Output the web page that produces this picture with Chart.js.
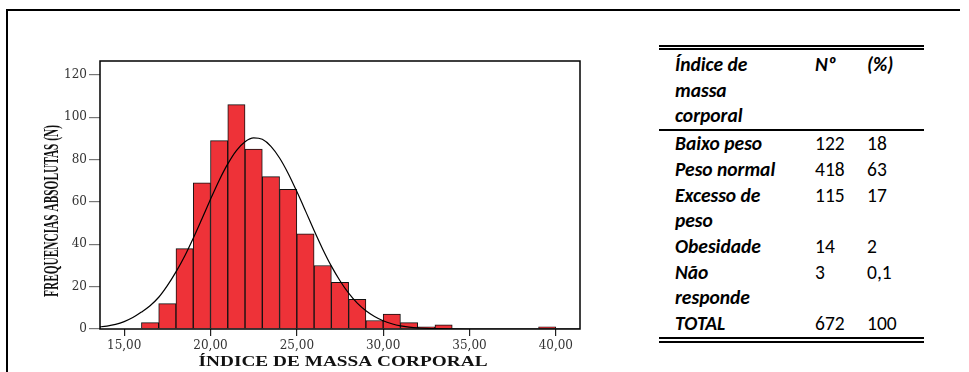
<!DOCTYPE html>
<html>
<head>
<meta charset="utf-8">
<script src="https://cdn.jsdelivr.net/npm/chart.js@4"></script>
<style>
  html, body { margin: 0; padding: 0; background: #fff; }
  body { width: 969px; height: 372px; position: relative; overflow: hidden; }
  .frame { position: absolute; left: 6px; top: 9px; width: 952px; height: 400px;
           border-top: 2px solid #000; border-left: 2px solid #000; }
  #wrap { position: absolute; left: 0; top: 0; width: 620px; height: 372px; }
  table { position: absolute; left: 659px; top: 45px; width: 265px; border-collapse: collapse;
          font-family: Carlito, Lato, "Open Sans", sans-serif; font-size: 19.5px; line-height: 25.7px; color: #000; }
  thead tr { border-top: 5px double #000; border-bottom: 2px solid #000; }
  thead th { padding-top: 2px; }
  tbody tr:last-child { border-bottom: 6px double #000; }
  td, th { padding: 0; vertical-align: top; text-align: left; }
  th { font-weight: bold; font-style: italic; }
  td.l { font-weight: bold; font-style: italic; }
  .c1 { padding-left: 16px; width: 140px; }
  .c2 { width: 52px; }
  .c3 { width: 57px; }
</style>
</head>
<body>
<div class="frame"></div>
<div id="wrap"><canvas id="chart" width="620" height="372"></canvas></div>
<table>
  <thead>
    <tr><th class="c1">Índice de<br>massa<br>corporal</th><th class="c2">Nº</th><th class="c3">(%)</th></tr>
  </thead>
  <tbody id="rows"></tbody>
</table>
<script>
// histogram bins (lower edge, width 1) and counts
const binStart = [16, 17, 18, 19, 20, 21, 22, 23, 24, 25, 26, 27, 28, 29, 30, 31, 32, 33, 39];
const counts = [3, 12, 38, 69, 89, 106, 85, 72, 66, 45, 30, 22, 14, 4, 7, 3, 1, 2, 1];

// normal curve
const curveX = [13.5, 14, 14.5, 15, 15.5, 16, 16.5, 17, 17.5, 18, 18.5, 19, 19.5, 20, 20.5, 21, 21.5, 22, 22.5, 23,
  23.5, 24, 24.5, 25, 25.5, 26, 26.5, 27, 27.5, 28, 28.5, 29, 29.5, 30, 30.5, 31, 31.5, 32, 33, 34, 35, 41.5];
const curveY = [0.9, 1.4, 2.2, 3.5, 5.4, 8, 11, 15, 20.5, 27, 34.4, 42.9, 52, 61.3, 70.2, 78, 84.3, 88.5, 90.3, 89.6,
  86.3, 80.8, 73.5, 64.9, 55.8, 46.5, 37.7, 29.7, 22.8, 16.9, 12.2, 8.6, 5.9, 3.9, 2.5, 1.5, 0.9, 0.5, 0.2, 0.05, 0, 0];

const xTicks = [15, 20, 25, 30, 35, 40];
const yTicks = [0, 20, 40, 60, 80, 100, 120];

// side table
const classes = ['Baixo peso', 'Peso normal', 'Excesso de<br>peso', 'Obesidade', 'Não<br>responde', 'TOTAL'];
const nums = ['122', '418', '115', '14', '3', '672'];
const pcts = ['18', '63', '17', '2', '0,1', '100'];

const tbody = document.getElementById('rows');
classes.forEach((c, i) => {
  const tr = document.createElement('tr');
  tr.innerHTML = `<td class="c1 l">${c}</td><td class="c2">${nums[i]}</td><td class="c3">${pcts[i]}</td>`;
  tbody.appendChild(tr);
});

const fmt = v => v.toFixed(2).replace('.', ',');

// plot frame and axis titles, squeezed to the widths of the original
const titles = {
  id: 'titles',
  afterDraw(chart) {
    const ctx = chart.ctx;
    const a = chart.chartArea;
    ctx.save();
    ctx.strokeStyle = '#000';
    ctx.lineWidth = 1.5;
    ctx.strokeRect(a.left, a.top, a.right - a.left, a.bottom - a.top);

    ctx.fillStyle = '#111';
    ctx.textAlign = 'center';
    ctx.textBaseline = 'middle';

    ctx.font = 'bold 15px "Liberation Serif"';
    let t = 'ÍNDICE DE MASSA CORPORAL';
    let w = ctx.measureText(t).width;
    ctx.save();
    ctx.translate(343, 362);
    ctx.scale(289 / w, 1);
    ctx.fillText(t, 0, 0);
    ctx.restore();

    ctx.font = 'bold 22px "Liberation Serif"';
    t = 'FREQUENCIAS ABSOLUTAS (N)';
    w = ctx.measureText(t).width;
    ctx.save();
    ctx.translate(52, 211);
    ctx.rotate(-Math.PI / 2);
    ctx.scale(172 / w, 1);
    ctx.fillText(t, 0, 0);
    ctx.restore();
    ctx.restore();
  }
};

new Chart(document.getElementById('chart'), {
  data: {
    datasets: [
      {
        type: 'line',
        order: 0,
        data: curveX.map((x, i) => ({ x, y: curveY[i] })),
        borderColor: '#000',
        borderWidth: 1.2,
        pointRadius: 0,
        cubicInterpolationMode: 'monotone',
        fill: false
      },
      {
        type: 'bar',
        order: 1,
        data: binStart.map((b, i) => ({ x: b + 0.5, y: counts[i] })),
        backgroundColor: '#ee3238',
        borderColor: '#111',
        borderWidth: 1,
        barPercentage: 1,
        categoryPercentage: 1
      }
    ]
  },
  options: {
    responsive: false,
    animation: false,
    events: [],
    layout: { padding: { left: 0, top: 61, right: 40, bottom: 0 } },
    plugins: { legend: { display: false }, tooltip: { enabled: false } },
    scales: {
      x: {
        type: 'linear',
        offset: false,
        min: 13.6,
        max: 41.4,
        afterBuildTicks: s => { s.ticks = xTicks.map(v => ({ value: v })); },
        afterFit: s => { s.height = 43; },
        border: { display: false },
        grid: { offset: false, drawOnChartArea: false, drawTicks: true, tickLength: 7, tickColor: '#222', lineWidth: 1.2 },
        ticks: {
          autoSkip: false, maxRotation: 0, padding: 3, color: '#333',
          font: { family: '"DejaVu Serif"', size: 12 },
          callback: v => fmt(v)
        }
      },
      y: {
        min: 0,
        max: 126.6,
        afterBuildTicks: s => { s.ticks = yTicks.map(v => ({ value: v })); },
        afterFit: s => { s.width = 100; },
        border: { display: false },
        grid: { drawOnChartArea: false, drawTicks: true, tickLength: 11, tickColor: '#777', lineWidth: 1.2 },
        ticks: {
          padding: 2, color: '#333',
          font: { family: '"DejaVu Serif"', size: 12 }
        }
      }
    }
  },
  plugins: [titles]
});
</script>
</body>
</html>
